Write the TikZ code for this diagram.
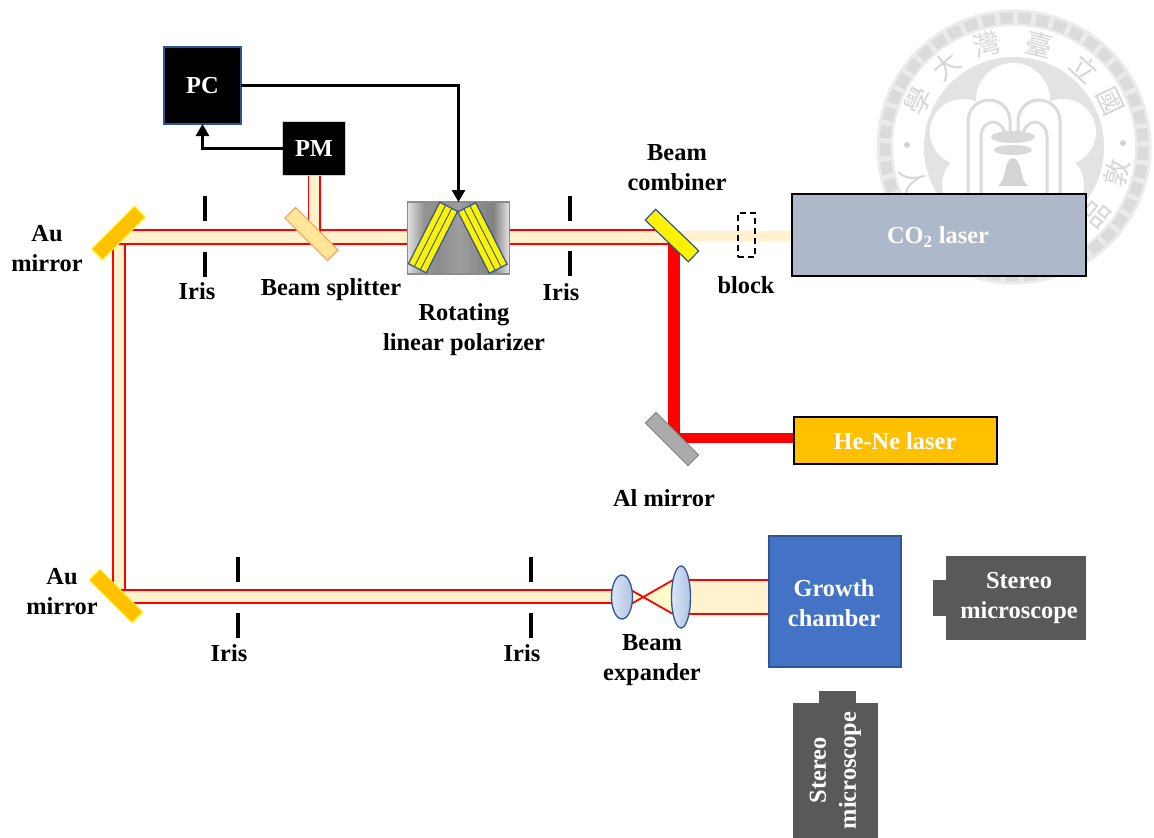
\documentclass[tikz,border=0pt]{standalone}
\usepackage{fontspec}
\setmainfont{Liberation Serif}
\newfontfamily\sealfont{Noto Sans CJK TC}
\usetikzlibrary{arrows.meta,positioning,calc,shapes.geometric,backgrounds}
\definecolor{beamfill}{HTML}{FFF2CC}
\definecolor{edgeblue}{HTML}{2F5597}
\definecolor{chamberblue}{HTML}{4472C4}
\definecolor{co2grey}{HTML}{ADB9CA}
\definecolor{amber}{HTML}{FFC000}
\definecolor{scopegrey}{HTML}{595959}
\definecolor{splitfill}{HTML}{FFE699}
\definecolor{splitedge}{HTML}{F4A460}
\definecolor{lenslight}{HTML}{DCE5F4}
\definecolor{lensdark}{HTML}{B0C3E5}
\pgfdeclarehorizontalshading{polshade}{100bp}{color(0bp)=(black!12);color(25bp)=(black!12);color(33bp)=(black!42);color(40bp)=(black!45);color(50bp)=(black!38);color(60bp)=(black!45);color(67bp)=(black!50);color(75bp)=(black!10);color(100bp)=(black!10)}

\begin{document}
\begin{tikzpicture}[x=1pt,y=-1pt,>={Stealth[inset=0pt,length=12pt,width=13pt]},
 font=\fontsize{24.4}{30}\selectfont\bfseries,
 lab/.style={align=center,inner sep=0pt,text=black},
 whitelab/.style={align=center,inner sep=0pt,text=white},
 blackbox/.style={draw,fill=black,text=white,line width=1.5pt,inner sep=0pt,outer sep=0pt},
 mirror/.style={draw,rectangle,inner sep=0pt,outer sep=0pt,line width=1.2pt,minimum width=60pt,minimum height=15pt},
 irisbar/.style={fill=black,inner sep=0pt,minimum width=4.5pt,minimum height=25pt},
 slab/.style={draw=edgeblue,fill=yellow,line width=1.2pt,inner sep=0pt,outer sep=0pt,minimum width=69pt,minimum height=20pt},
 lens/.style={draw=edgeblue,ellipse,line width=1.3pt,inner sep=0pt,outer sep=0pt,left color=lenslight,right color=lensdark},
 beam/.style={draw=red,line width=1.5pt,double=beamfill,double distance=#1},
 scopebody/.style={fill=scopegrey,text=white,align=center,inner sep=0pt,outer sep=0pt},
 link/.style={draw,line width=2.6pt,->},
 sealchar/.style={text=black!16,inner sep=0pt,font=\fontsize{27}{27}\selectfont\sealfont}]
\useasboundingbox (0,0) rectangle (1154,838);
% seal behind the picture
\coordinate (seal) at (1014,147);
\fill[black!8] (seal) circle (137.5);
\draw[black!14,line width=11pt,dash pattern=on 13pt off 5pt] (seal) circle (129);
\fill[white] (seal) circle (121);
\fill[black!11] (seal) circle (90);
\foreach \lx/\ly/\lr in {1013/100/37,963/132/33,1063/132/33,975/185/33,1051/185/33,1013/150/45}
  \fill[white] (\lx,\ly) circle (\lr);
\fill[black!18] (907,145) circle (3) (1123,143) circle (3);
\foreach \i/\ch/\ang in {1/學/154,2/大/130,3/灣/105,4/臺/76,5/立/48,6/國/25.6,7/敦/-14,8/品/-39,9/人/198}{
  \ifnum\i<7 \node[sealchar,rotate=\ang-90] (ch\i) at ($(seal)+(\ang:106 and -106)$) {\ch};
  \else \node[sealchar,rotate=\ang+90] (ch\i) at ($(seal)+(\ang:106 and -106)$) {\ch}; \fi
}
\draw[black!14,line width=3pt] (968,195) -- (968,121) arc[start angle=180,end angle=0,x radius=21,y radius=-21] -- (1010,135);
\draw[black!14,line width=3pt] (981,195) -- (981,137) arc[start angle=180,end angle=0,x radius=12,y radius=-15] -- (1005,135);
\draw[black!14,line width=3pt] (1060,195) -- (1060,121) arc[start angle=0,end angle=180,x radius=21,y radius=-21] -- (1018,135);
\draw[black!14,line width=3pt] (1047,195) -- (1047,137) arc[start angle=0,end angle=180,x radius=12,y radius=-15] -- (1023,135);
\fill[black!15] (1013,137) ellipse (22 and 6) (1013,150) ellipse (19 and 5);
\fill[black!17] (1013,158) .. controls (1003,160) and (1007,180) .. (998,186) -- (1028,186) .. controls (1019,180) and (1023,160) .. (1013,158);
% instruments
\node[blackbox,draw=edgeblue,minimum width=77pt,minimum height=77pt] (pc) at (202.5,85.5) {PC};
\node[blackbox,draw=black!18,minimum width=63pt,minimum height=54pt] (pm) at (314,148.5) {PM};
\node[draw=black!45,line width=1.2pt,shade,shading=polshade,minimum width=102pt,minimum height=72pt,inner sep=0pt,outer sep=0pt] (polarizer) at (458.5,238) {};
\node[slab,rotate=63] (slableft) at (433,237.5) {};
\node[slab,rotate=-63] (slabright) at (482.5,238) {};
\foreach \f in {0.33,0.67}{
  \draw[edgeblue,line width=0.9pt] ($(slableft.north west)!\f!(slableft.south west)$) -- ($(slableft.north east)!\f!(slableft.south east)$);
  \draw[edgeblue,line width=0.9pt] ($(slabright.north west)!\f!(slabright.south west)$) -- ($(slabright.north east)!\f!(slabright.south east)$);
}
\node[draw,fill=co2grey,line width=1.8pt,minimum width=294pt,minimum height=82pt,outer sep=0pt] (co2) at (939,235) {};
\node[whitelab] (co2text) at (938,237) {CO\textsubscript{2} laser};
\node[draw,fill=amber,line width=1.5pt,minimum width=203pt,minimum height=47pt,outer sep=0pt] (hene) at (895.5,440.5) {};
\node[whitelab] (henetext) at (895,441) {He-Ne laser};
\node[draw=edgeblue,fill=chamberblue,line width=1.2pt,minimum width=132pt,minimum height=131pt,outer sep=0pt] (chamber) at (835,601.5) {};
\node[whitelab] (chambertext) at (834,603) {Growth\\chamber};
\node[scopebody,minimum width=140pt,minimum height=84pt] (scoperight) at (1016,598) {\hspace*{6pt}Stereo\\\hspace*{6pt}microscope};
\node[scopebody,minimum width=13pt,minimum height=36pt,anchor=east] (noseright) at (scoperight.west) {};
\node[scopebody,rotate=90,minimum width=135pt,minimum height=85pt] (scopebottom) at (835.5,770.5) {Stereo\\microscope};
\node[scopebody,minimum width=37pt,minimum height=13pt,anchor=south] (nosebottom) at (837.5,703.5) {};
% mirrors
\node[mirror,rotate=45,draw=yellow,fill=amber] (autop) at (118.5,233) {};
\node[mirror,rotate=-45,draw=yellow,fill=amber] (aubottom) at (116,596) {};
\node[mirror,rotate=-45,draw=splitedge,fill=splitfill] (splitter) at (311.5,234) {};
\node[mirror,rotate=-44,draw=edgeblue,fill=yellow] (combiner) at (672,235.5) {};
\node[mirror,rotate=-45,draw=black!45,fill=black!33] (almirror) at (672,439) {};
\node[draw,dash pattern=on 6pt off 4pt,line width=1.5pt,minimum width=17pt,minimum height=44pt,inner sep=0pt] (blockbox) at (746.5,235) {};
% irises
\foreach \n/\x/\y in {a/205/208.5,b/205/264.5,c/570/208.5,d/570/263.5,e/238/569.5,f/238/625.5,g/531/569.5,h/531/625.5}
  \node[irisbar] (iris\n) at (\x,\y) {};
% lenses
\node[lens,minimum width=21pt,minimum height=44pt] (lenssmall) at (622,597) {};
\node[lens,minimum width=19pt,minimum height=62pt] (lensbig) at (681,597) {};
% beams
\coordinate (bendtop) at (119,237);
\coordinate (bendbottom) at (119,596.5);
\coordinate (endtop) at (672,237);
\coordinate (endbottom) at (622,596.5);
\coordinate (crossing) at (642,597);
\coordinate (fanupper) at (673,580);
\coordinate (fanlower) at (673,614);
\coordinate (fanleftup) at (631,590);
\coordinate (fanleftdown) at (631,604);
\coordinate (henecorner) at (674,438);
\begin{scope}[on background layer]
\draw[beam=10.5pt] (bendtop) -- (bendbottom);
\draw[beam=12.5pt] (bendtop) -- (endtop);
\draw[beam=11.5pt] (bendbottom) -- (endbottom);
\draw[beam=10pt] (pm.south) -- (pm.south |- endtop);
\draw[beam=32pt,line width=2pt] (lensbig.center) -- (lensbig.center -| chamber.west);
\fill[yellow!20] (crossing) -- (fanupper) -- (fanlower) -- cycle;
\fill[yellow!20] (crossing) -- (fanleftup) -- (fanleftdown) -- cycle;
\draw[red,line width=1.8pt] (fanleftup) -- (fanlower);
\draw[red,line width=1.8pt] (fanleftdown) -- (fanupper);
\draw[beamfill,line width=10pt] (combiner.center) -- (combiner.center -| co2.west);
\draw[red,line width=12pt] (674,239) -- (674,444);
\draw[red,line width=10pt] (henecorner) -- (henecorner -| hene.west);
\end{scope}
% signal lines
\draw[link] (pm.west) -| (pc.south);
\draw[link] (pc.east) -| (polarizer.north);
% labels
\node[lab] (lautop) at (47,249) {Au\\mirror};
\node[lab] (laubottom) at (62,591.5) {Au\\mirror};
\node[lab] (lirisa) at (197,291) {Iris};
\node[lab] (lirisb) at (561,292) {Iris};
\node[lab] (lirisc) at (229,653) {Iris};
\node[lab] (lirisd) at (522,653) {Iris};
\node[lab] (lsplitter) at (331,289.5) {Beam splitter};
\node[lab] (lpolarizer) at (464,330) {Rotating\\linear polarizer};
\node[lab] (lcombiner) at (677,168) {Beam\\combiner};
\node[lab] (lblock) at (746,285.5) {block};
\node[lab] (lalmirror) at (664,498.5) {Al mirror};
\node[lab] (lexpander) at (652,660.5) {Beam\\expander};
\end{tikzpicture}
\end{document}
